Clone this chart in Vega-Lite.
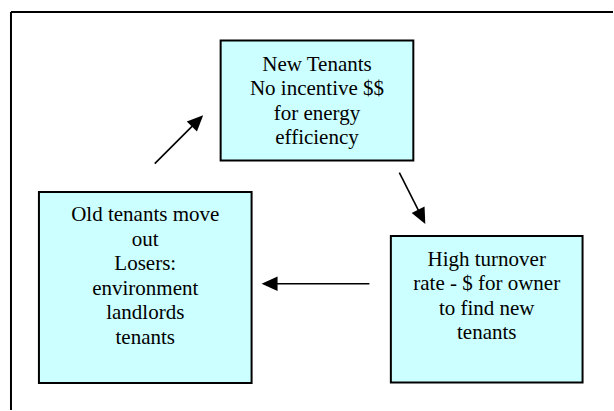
{
  "$schema": "https://vega.github.io/schema/vega-lite/v6.json",
  "width": 614,
  "height": 411,
  "padding": 0,
  "autosize": {"type": "fit", "contains": "padding"},
  "background": "white",
  "config": {"view": {"stroke": null}},
  "datasets": {
    "frame": [
      {"x": 11, "y": 12, "x2": 614, "y2": 12},
      {"x": 11, "y": 12, "x2": 11, "y2": 411}
    ],
    "boxes": [
      {"name": "new", "x": 221, "x2": 414, "y": 40.5, "y2": 161},
      {"name": "old", "x": 39, "x2": 252, "y": 192.5, "y2": 384},
      {"name": "high", "x": 391.5, "x2": 583.5, "y": 236.5, "y2": 383.5}
    ],
    "arrows": [
      {"x": 155, "y": 164, "x2": 197.8, "y2": 121.2},
      {"x": 400, "y": 173, "x2": 422.4, "y2": 217.4},
      {"x": 370, "y": 284.5, "x2": 270, "y2": 284.5}
    ],
    "heads": [
      {"x": 203.5, "y": 115.5, "angle": 45},
      {"x": 426, "y": 224.5, "angle": 153.3},
      {"x": 262, "y": 284.5, "angle": 270}
    ],
    "labels": [
      {"x": 317.5, "y": 71, "text": "New Tenants\nNo incentive $$\nfor energy\nefficiency"},
      {"x": 145.5, "y": 222, "text": "Old tenants move\nout\nLosers:\nenvironment\nlandlords\ntenants"},
      {"x": 487.5, "y": 266.5, "text": "High turnover\nrate - $ for owner\nto find new\ntenants"}
    ]
  },
  "layer": [
    {
      "data": {"name": "frame"},
      "mark": {"type": "rule", "color": "#000000", "strokeWidth": 2},
      "encoding": {
        "x": {"field": "x", "type": "quantitative", "scale": {"domain": [0, 614], "nice": false, "zero": false}, "axis": null},
        "x2": {"field": "x2"},
        "y": {"field": "y", "type": "quantitative", "scale": {"domain": [0, 411], "nice": false, "zero": false, "reverse": true}, "axis": null},
        "y2": {"field": "y2"}
      }
    },
    {
      "data": {"name": "boxes"},
      "mark": {"type": "rect", "fill": "#CCFFFF", "stroke": "#000000", "strokeWidth": 2},
      "encoding": {
        "x": {"field": "x", "type": "quantitative", "scale": {"domain": [0, 614], "nice": false, "zero": false}, "axis": null},
        "x2": {"field": "x2"},
        "y": {"field": "y", "type": "quantitative", "scale": {"domain": [0, 411], "nice": false, "zero": false, "reverse": true}, "axis": null},
        "y2": {"field": "y2"}
      }
    },
    {
      "data": {"name": "arrows"},
      "mark": {"type": "rule", "color": "#000000", "strokeWidth": 1.6},
      "encoding": {
        "x": {"field": "x", "type": "quantitative", "axis": null},
        "x2": {"field": "x2"},
        "y": {"field": "y", "type": "quantitative", "axis": null},
        "y2": {"field": "y2"}
      }
    },
    {
      "data": {"name": "heads"},
      "mark": {"type": "point", "shape": "M0,0L-0.45,1L0.45,1Z", "filled": true, "color": "#000000", "opacity": 1, "size": 1024, "strokeWidth": 0},
      "encoding": {
        "x": {"field": "x", "type": "quantitative", "axis": null},
        "y": {"field": "y", "type": "quantitative", "axis": null},
        "angle": {"field": "angle", "type": "quantitative", "scale": null}
      }
    },
    {
      "data": {"name": "labels"},
      "mark": {"type": "text", "font": "Liberation Serif", "fontSize": 21, "lineHeight": 24.5, "align": "center", "baseline": "alphabetic", "lineBreak": "\n", "color": "#000000"},
      "encoding": {
        "x": {"field": "x", "type": "quantitative", "axis": null},
        "y": {"field": "y", "type": "quantitative", "axis": null},
        "text": {"field": "text", "type": "nominal"}
      }
    }
  ]
}
